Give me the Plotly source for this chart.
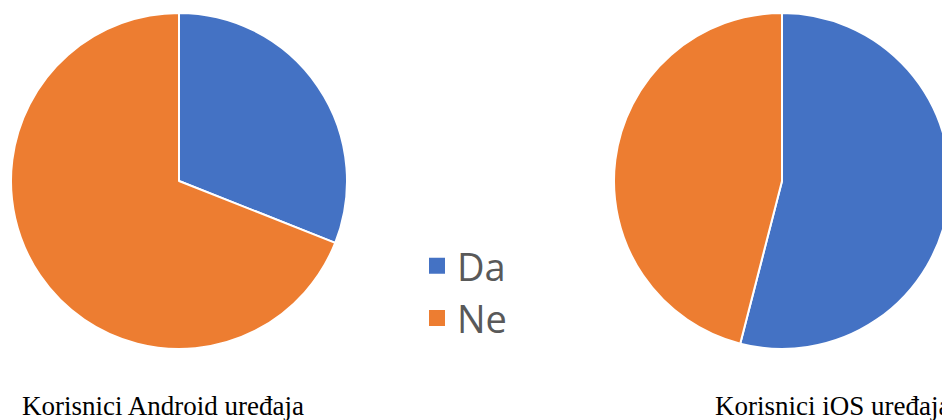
import plotly.graph_objects as go

labels = ["Da", "Ne"]
android_values = [31, 69]
ios_values = [54, 46]
titles = ["Korisnici Android uređaja", "Korisnici iOS uređaja"]
colors = ["#4472C4", "#ED7D31"]

W, H = 960, 420

fig = go.Figure()

def px_dom(x0, x1, y0, y1):
    return dict(x=[x0 / W, x1 / W], y=[1 - y1 / H, 1 - y0 / H])

fig.add_trace(go.Pie(
    labels=labels, values=android_values, sort=False, direction="clockwise",
    rotation=0, marker=dict(colors=colors, line=dict(color="white", width=2)),
    textinfo="none", hoverinfo="label+value", showlegend=False,
    domain=px_dom(11, 347, 13, 349),
))
fig.add_trace(go.Pie(
    labels=labels, values=ios_values, sort=False, direction="clockwise",
    rotation=0, marker=dict(colors=colors, line=dict(color="white", width=2)),
    textinfo="none", hoverinfo="label+value", showlegend=False,
    domain=px_dom(614, 950, 13, 349),
))

for lab, col in zip(labels, colors):
    fig.add_trace(go.Scatter(
        x=[None], y=[None], mode="markers", name=lab,
        marker=dict(symbol="square", size=18, color=col),
        showlegend=True,
    ))

fig.add_annotation(text=titles[0], x=163 / W, y=1 - 406 / H, xref="paper", yref="paper",
                   xanchor="center", yanchor="middle", showarrow=False,
                   font=dict(family="Liberation Serif", size=27, color="#000000"))
fig.add_annotation(text=titles[1], x=713 / W, y=1 - 406 / H, xref="paper", yref="paper",
                   xanchor="left", yanchor="middle", showarrow=False,
                   font=dict(family="Liberation Serif", size=27, color="#000000"))

fig.update_layout(
    width=W, height=H,
    margin=dict(l=0, r=0, t=0, b=0),
    paper_bgcolor="white", plot_bgcolor="white",
    xaxis=dict(visible=False), yaxis=dict(visible=False),
    legend=dict(x=417 / W, y=1 - 292 / H, xanchor="left", yanchor="middle",
                font=dict(family="Open Sans", size=38, color="#595959"),
                bgcolor="rgba(0,0,0,0)", itemclick=False),
)

fig.write_html("out.html", config={"displayModeBar": False}, post_script=(
    "document.body.style.margin='0';"
    "document.body.style.overflow='hidden';"
    "document.documentElement.style.overflow='hidden';"
))
